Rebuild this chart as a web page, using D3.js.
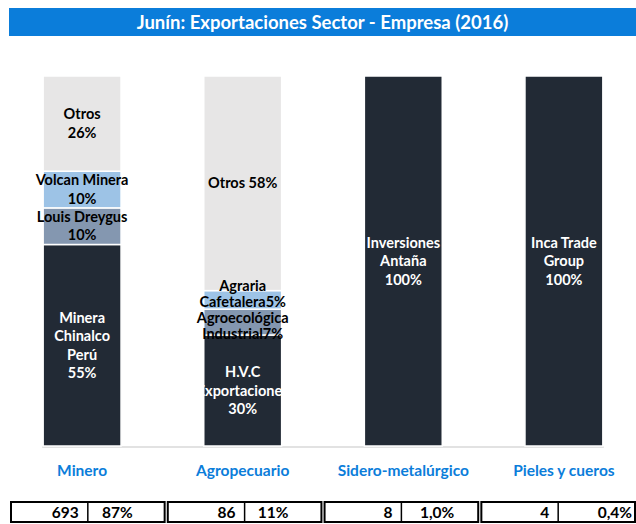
<!DOCTYPE html>
<html>
<head>
<meta charset="utf-8">
<script src="https://cdn.jsdelivr.net/npm/d3@7"></script>
<style>
  body { margin: 0; background: #fff; }
  svg { display: block; font-family: Lato, "Open Sans", sans-serif; }
</style>
</head>
<body>
<div id="chart"></div>
<script>
// sectors and their export totals (millones US$) and share of total
const sectors = ["Minero", "Agropecuario", "Sidero-metalúrgico", "Pieles y cueros"];
const exportTotals = [693, 86, 8, 4];
const exportShares = ["87%", "11%", "1,0%", "0,4%"];

// company shares within each sector (bottom to top), label as shown in the picture
const minero = [
  { empresa: "Minera Chinalco Perú", pct: 55, label: "Minera\nChinalco\nPerú\n55%" },
  { empresa: "Louis Dreygus", pct: 10, label: "Louis Dreygus\n10%" },
  { empresa: "Volcan Minera", pct: 10, label: "Volcan Minera\n10%" },
  { empresa: "Otros", pct: 26, label: "Otros\n26%" }
];
const agropecuario = [
  { empresa: "H.V.C Exportaciones", pct: 30, label: "H.V.C\nExportaciones\n30%" },
  { empresa: "Agroecológica Industrial", pct: 7, label: "Agroecológica\nIndustrial7%" },
  { empresa: "Agraria Cafetalera", pct: 5, label: "Agraria\nCafetalera5%" },
  { empresa: "Otros", pct: 58, label: "Otros 58%" }
];
const sidero = [
  { empresa: "Inversiones Antaña", pct: 100, label: "Inversiones\nAntaña\n100%" }
];
const pieles = [
  { empresa: "Inca Trade Group", pct: 100, label: "Inca Trade\nGroup\n100%" }
];
const companies = [minero, agropecuario, sidero, pieles];

// colour by position in the stack
const segColors = ["#222a35", "#8497b0", "#9dc3e6", "#e7e6e6"];

// small layout tweaks
const pctPad = [32, 33, 24, 3];
const labelShift = { "Agraria Cafetalera": -6, "Agroecológica Industrial": 4 };

const width = 636, height = 524;
const blue = "#0b7dda";

const svg = d3.select("#chart").append("svg")
  .attr("width", width)
  .attr("height", height);

// title banner
svg.append("rect")
  .attr("x", 9).attr("y", 8)
  .attr("width", width - 9).attr("height", 28)
  .attr("fill", blue);
svg.append("text")
  .attr("x", (width + 9) / 2).attr("y", 28.5)
  .attr("text-anchor", "middle")
  .attr("fill", "#fff")
  .attr("font-weight", "bold")
  .attr("font-size", 18.5)
  .text("Junín: Exportaciones Sector - Empresa (2016)");

const x = d3.scaleBand()
  .domain(sectors)
  .range([3, 643])
  .paddingInner(0.515)
  .paddingOuter(0.25);

const y = d3.scaleLinear().domain([0, 1]).range([446, 76]);

// build stacked segments, normalised to each sector's sum
const segments = [];
companies.forEach((list, i) => {
  const total = d3.sum(list, d => d.pct);
  let acc = 0;
  list.forEach((d, j) => {
    segments.push({
      sector: sectors[i], idx: j, label: d.label, empresa: d.empresa,
      y0: acc / total, y1: (acc + d.pct) / total
    });
    acc += d.pct;
  });
});

// baseline
svg.append("line")
  .attr("x1", x(sectors[0]) - 1).attr("x2", x(sectors[3]) + x.bandwidth() + 1)
  .attr("y1", y(0) + 1).attr("y2", y(0) + 1)
  .attr("stroke", "#d9d9d9").attr("stroke-width", 1.5);

const defs = svg.append("defs");
sectors.forEach((s, i) => {
  defs.append("clipPath").attr("id", "clip" + i)
    .append("rect")
    .attr("x", x(s)).attr("y", y(1))
    .attr("width", x.bandwidth()).attr("height", y(0) - y(1));
});

svg.selectAll("rect.seg")
  .data(segments)
  .enter()
  .append("rect")
  .attr("class", "seg")
  .attr("x", d => x(d.sector))
  .attr("y", d => y(d.y1))
  .attr("width", x.bandwidth())
  .attr("height", d => y(d.y0) - y(d.y1))
  .attr("fill", d => segColors[d.idx])
  .attr("stroke", "#fff")
  .attr("stroke-width", 1.5);

// segment labels
const labels = svg.selectAll("text.seg-label")
  .data(segments)
  .enter()
  .append("text")
  .attr("class", "seg-label")
  .attr("text-anchor", "middle")
  .attr("font-size", 14.5)
  .attr("font-weight", "bold")
  .attr("fill", d => d.idx === 0 ? "#fff" : "#000")
  .attr("clip-path", d => d.idx === 0 ? `url(#clip${sectors.indexOf(d.sector)})` : null);

labels.each(function (d) {
  const lines = d.label.split("\n");
  const segH = y(d.y0) - y(d.y1);
  const lineH = segH < 30 ? 16 : 18.5;
  const cy = (y(d.y0) + y(d.y1)) / 2 + (labelShift[d.empresa] || 0);
  const top = cy - (lines.length - 1) * lineH / 2;
  d3.select(this).selectAll("tspan")
    .data(lines)
    .enter()
    .append("tspan")
    .attr("x", x(d.sector) + x.bandwidth() / 2)
    .attr("y", (l, k) => top + k * lineH + 5)
    .text(l => l);
});

// category labels
svg.selectAll("text.cat")
  .data(sectors)
  .enter()
  .append("text")
  .attr("class", "cat")
  .attr("x", d => x(d) + x.bandwidth() / 2)
  .attr("y", 475.5)
  .attr("text-anchor", "middle")
  .attr("fill", blue)
  .attr("font-weight", "bold")
  .attr("font-size", 15.5)
  .text(d => d);

// table of totals
const t = d3.scaleBand()
  .domain(sectors)
  .range([11, 635])
  .paddingInner(0.02);

const rowTop = 502, rowH = 20;
const cells = svg.selectAll("g.cell")
  .data(sectors)
  .enter()
  .append("g")
  .attr("class", "cell")
  .attr("transform", d => `translate(${t(d)},${rowTop})`);

cells.append("rect")
  .attr("width", t.bandwidth())
  .attr("height", rowH)
  .attr("fill", "none")
  .attr("stroke", "#000")
  .attr("stroke-width", 2);

cells.append("line")
  .attr("x1", t.bandwidth() / 2).attr("x2", t.bandwidth() / 2)
  .attr("y1", 0).attr("y2", rowH)
  .attr("stroke", "#000")
  .attr("stroke-width", 1.5);

cells.append("text")
  .attr("x", t.bandwidth() / 2 - 9)
  .attr("y", 16)
  .attr("text-anchor", "end")
  .attr("font-weight", "bold")
  .attr("font-size", 15.5)
  .text((d, i) => exportTotals[i]);

cells.append("text")
  .attr("x", (d, i) => t.bandwidth() - pctPad[i])
  .attr("y", 16)
  .attr("text-anchor", "end")
  .attr("font-weight", "bold")
  .attr("font-size", 15.5)
  .text((d, i) => exportShares[i]);
</script>
</body>
</html>
